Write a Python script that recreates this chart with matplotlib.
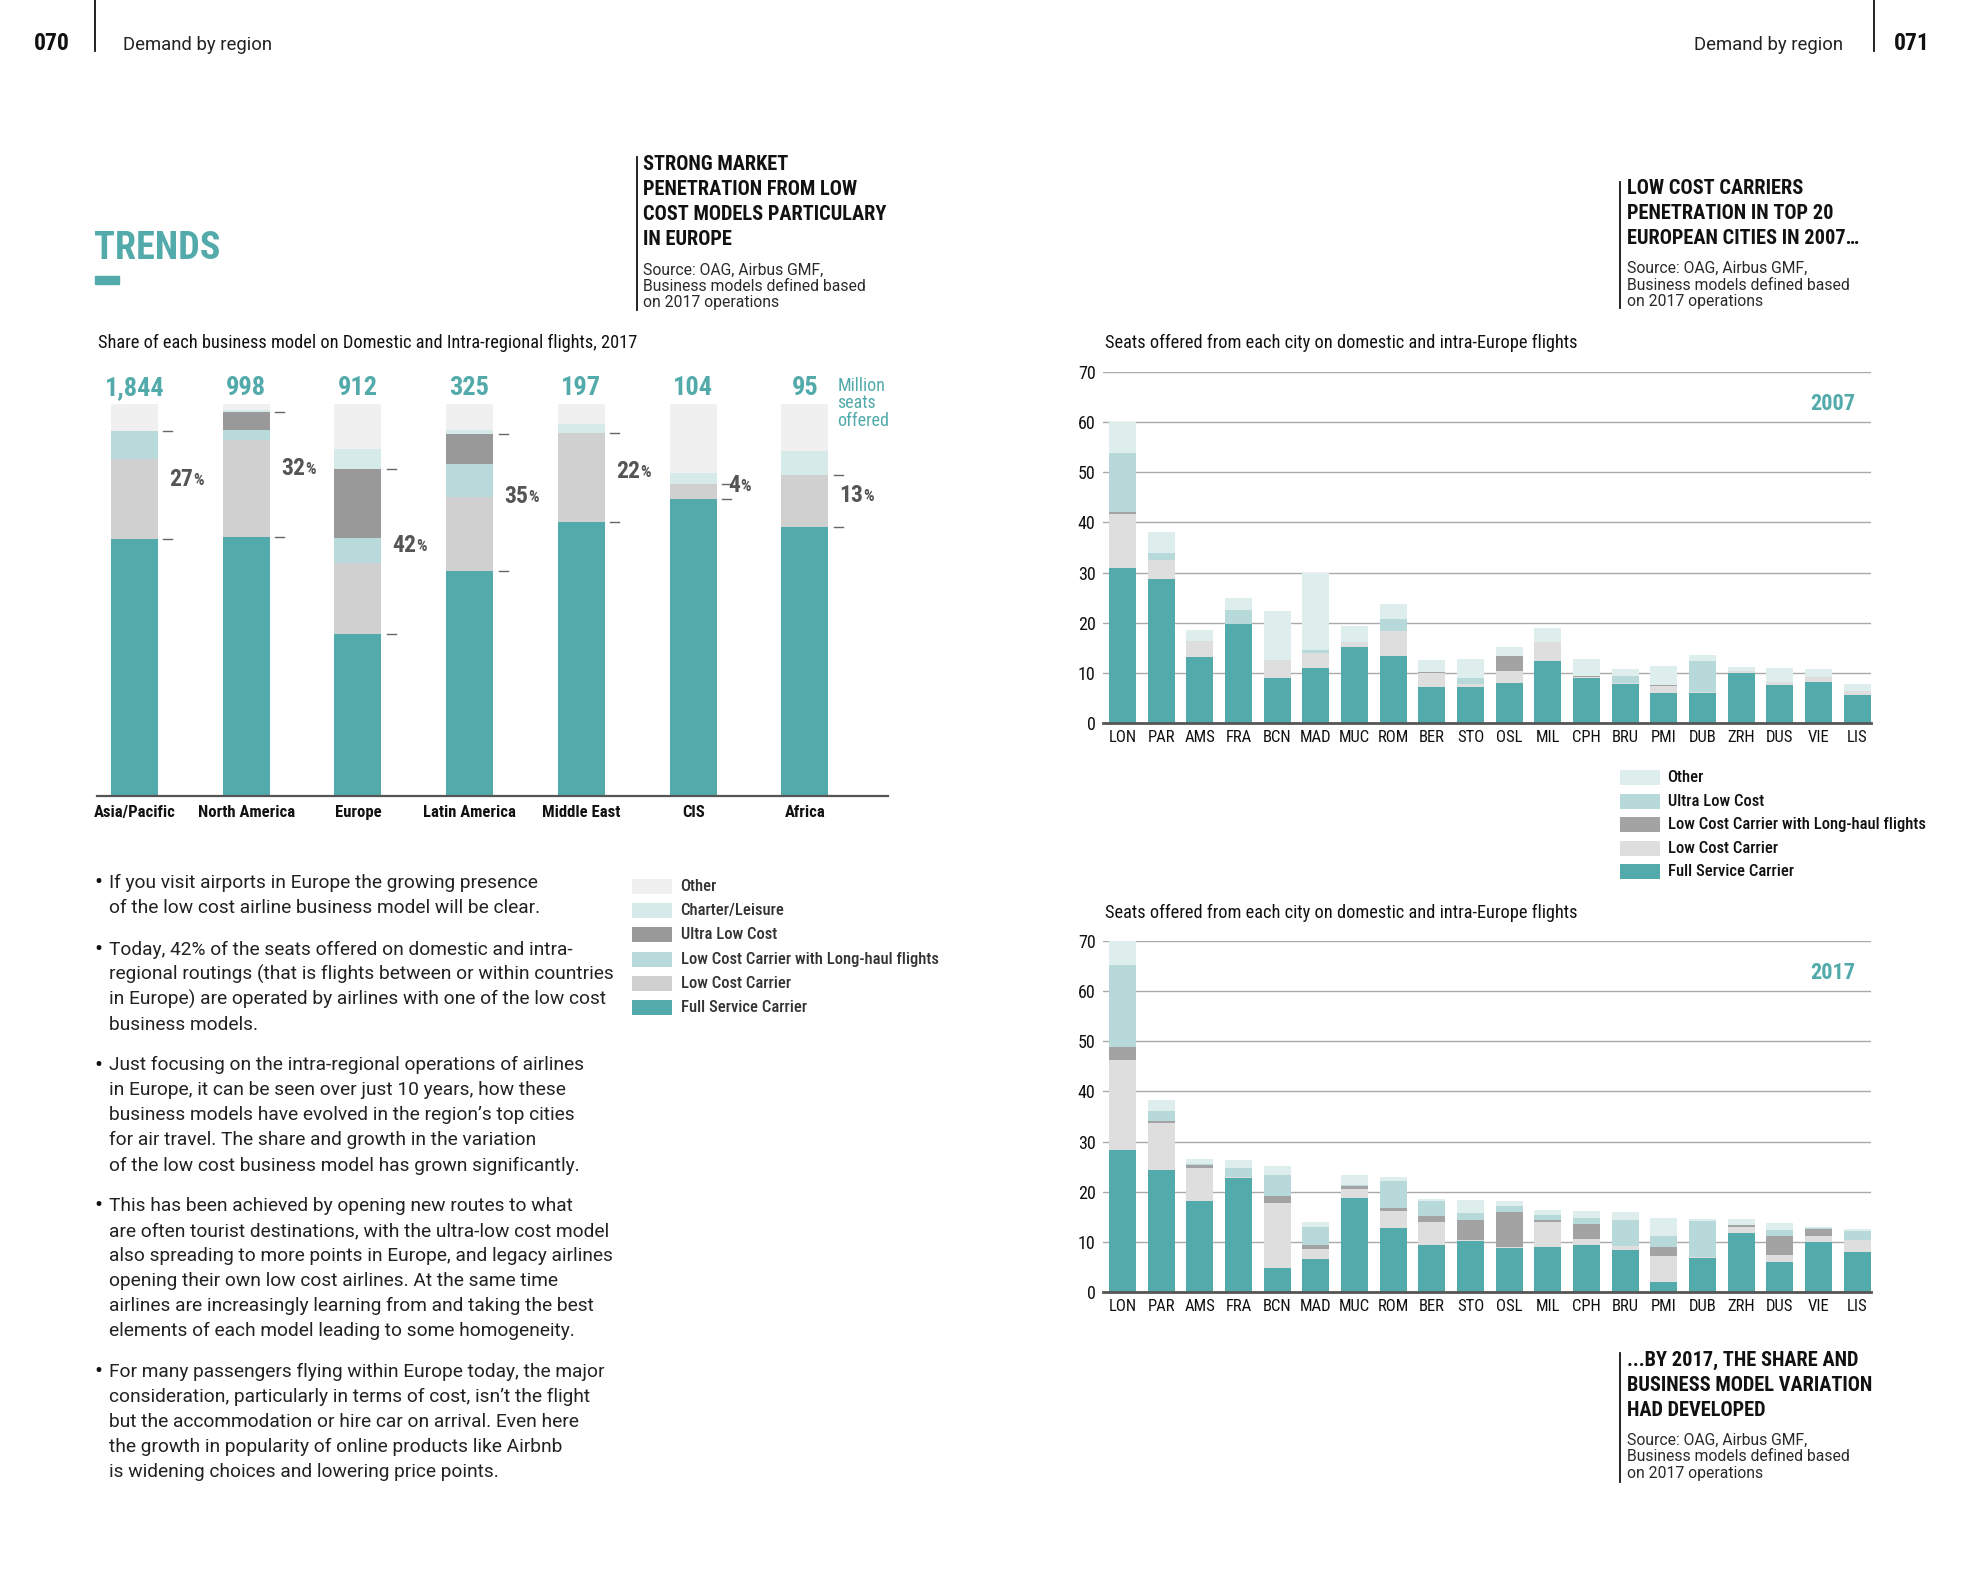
import matplotlib.pyplot as plt
import numpy as np

# page grid used for placing things (reference measured at about 1568 x 1254)
W, H = 1568, 1254


def fx(x):
    return x / W


def fy(y):
    return 1 - y / H


TEAL = '#52abaa'
DARK = '#111111'
COND = ['Liberation Sans Narrow', 'DejaVu Sans Condensed', 'Roboto Condensed', 'Roboto']
LIGHT = ['Roboto', 'DejaVu Sans']

# ---- left chart: share of business model by region, 2017 (%)
regions = ['Asia/Pacific', 'North America', 'Europe', 'Latin America', 'Middle East', 'CIS', 'Africa']
seats_total = [1844, 998, 912, 325, 197, 104, 95]
low_cost_pct = [27, 32, 42, 35, 22, 4, 13]
reg_fsc = [65.6, 66.2, 41.5, 57.5, 70.1, 75.8, 68.6]
reg_lcc = [20.6, 24.7, 18.1, 19.0, 22.5, 4.0, 13.3]
reg_lcclh = [7.0, 2.7, 6.4, 8.2, 0, 0, 0]
reg_ulc = [0, 4.4, 17.6, 7.7, 0, 0, 0]
reg_charter = [0, 0.6, 4.9, 1.2, 2.5, 2.8, 6.2]
reg_other = [6.8, 1.4, 11.5, 6.4, 4.9, 17.4, 11.9]

# ---- right charts: seats offered per city (millions)
cities = ['LON', 'PAR', 'AMS', 'FRA', 'BCN', 'MAD', 'MUC', 'ROM', 'BER', 'STO',
          'OSL', 'MIL', 'CPH', 'BRU', 'PMI', 'DUB', 'ZRH', 'DUS', 'VIE', 'LIS']
fsc07 = [30.9, 28.7, 13.3, 19.8, 9.0, 11.0, 15.3, 13.4, 7.2, 7.3, 8.0, 12.4, 9.0, 7.9, 6.0, 6.1, 10.1, 7.6, 8.3, 5.7]
lcc07 = [10.8, 3.8, 3.1, 0, 3.6, 3.0, 1.0, 5.1, 2.9, 0.5, 2.5, 3.8, 0.3, 0.2, 1.5, 0.1, 0.4, 0.7, 1.0, 0.8]
lcclh07 = [0.3, 0, 0, 0, 0, 0, 0, 0, 0.2, 0, 3.0, 0, 0.2, 0, 0.1, 0, 0, 0, 0, 0]
ulc07 = [11.9, 1.4, 0, 2.7, 0, 0.6, 0, 2.3, 0, 1.2, 0, 0, 0, 1.3, 0, 6.3, 0, 0, 0, 0]
oth07 = [6.1, 4.2, 2.2, 2.4, 9.7, 15.3, 3.1, 3.0, 2.3, 3.8, 1.7, 2.8, 3.3, 1.4, 3.9, 1.1, 0.7, 2.7, 1.5, 1.3]

fsc17 = [28.4, 24.4, 18.1, 22.7, 4.8, 6.6, 18.8, 12.8, 9.5, 10.2, 8.8, 9.0, 9.5, 8.5, 2.1, 6.8, 11.8, 6.0, 10.0, 8.1]
lcc17 = [17.9, 9.3, 6.7, 0.2, 12.9, 2.0, 1.7, 3.5, 4.6, 0.3, 0.3, 5.1, 1.1, 0.8, 5.2, 0.3, 1.3, 1.5, 1.3, 2.3]
lcclh17 = [2.6, 0.5, 0.6, 0, 1.4, 0.8, 0.7, 0.6, 1.2, 4.0, 7.0, 0.4, 3.1, 0, 1.7, 0, 0.3, 3.8, 1.3, 0]
ulc17 = [16.2, 1.9, 0.2, 1.8, 4.3, 3.7, 0.2, 5.2, 2.8, 1.3, 1.0, 0.9, 1.2, 5.2, 2.3, 7.1, 0, 1.1, 0.2, 1.8]
oth17 = [4.8, 2.1, 1.0, 1.7, 1.8, 1.0, 2.0, 0.8, 0.5, 2.5, 1.0, 1.1, 1.4, 1.6, 3.6, 0.5, 1.2, 1.4, 0.3, 0.4]
yticks = [0, 10, 20, 30, 40, 50, 60, 70]

left_names = ['Other', 'Charter/Leisure', 'Ultra Low Cost', 'Low Cost Carrier with Long-haul flights',
              'Low Cost Carrier', 'Full Service Carrier']
left_colors = ['#f0f0f0', '#d6eaea', '#999999', '#b8dada', '#d0d0d0', TEAL]
right_names = ['Other', 'Ultra Low Cost', 'Low Cost Carrier with Long-haul flights',
               'Low Cost Carrier', 'Full Service Carrier']
right_colors = ['#ddeeed', '#b8d9d9', '#a3a3a3', '#dedede', TEAL]

bullets = [
    ['If you visit airports in Europe the growing presence',
     'of the low cost airline business model will be clear.'],
    ['Today, 42% of the seats offered on domestic and intra-',
     'regional routings (that is flights between or within countries',
     'in Europe) are operated by airlines with one of the low cost',
     'business models.'],
    ['Just focusing on the intra-regional operations of airlines',
     'in Europe, it can be seen over just 10 years, how these',
     'business models have evolved in the region\u2019s top cities',
     'for air travel. The share and growth in the variation',
     'of the low cost business model has grown significantly.'],
    ['This has been achieved by opening new routes to what',
     'are often tourist destinations, with the ultra-low cost model',
     'also spreading to more points in Europe, and legacy airlines',
     'opening their own low cost airlines. At the same time',
     'airlines are increasingly learning from and taking the best',
     'elements of each model leading to some homogeneity.'],
    ['For many passengers flying within Europe today, the major',
     'consideration, particularly in terms of cost, isn\u2019t the flight',
     'but the accommodation or hire car on arrival. Even here',
     'the growth in popularity of online products like Airbnb',
     'is widening choices and lowering price points.'],
]

fig = plt.figure(figsize=(19.69, 15.75), dpi=100)
fig.patch.set_facecolor('white')


def txt(x, y, s, **kw):
    kw.setdefault('va', 'center')
    kw.setdefault('color', DARK)
    return fig.text(fx(x), fy(y), s, **kw)


def vline(x, y0, y1, lw=1.3):
    fig.add_artist(plt.Line2D([fx(x), fx(x)], [fy(y0), fy(y1)], color='#111111', lw=lw))


def title_block(x, y, lines, src_y):
    for i, s in enumerate(lines):
        txt(x, y + i * 20, s, family=COND, weight='bold', fontsize=14.7, color='#111111')
    src = ['Source: OAG, Airbus GMF,', 'Business models defined based', 'on 2017 operations']
    for i, s in enumerate(src):
        txt(x, src_y + i * 13, s, family=LIGHT, fontsize=11.3, color='#2a2a2a')


# ---- header
txt(27, 35, '070', family=COND, weight='bold', fontsize=17, color='#111111')
vline(76, 0, 41)
txt(98, 36, 'Demand by region', family=LIGHT, fontsize=13.3, color='#222222')
txt(1468, 36, 'Demand by region', family=LIGHT, fontsize=13.3, color='#222222', ha='right')
vline(1492, 0, 41)
txt(1537, 35, '071', family=COND, weight='bold', fontsize=17, color='#111111', ha='right')

txt(75, 198, 'TRENDS', family=COND, weight='bold', fontsize=27.5, color=TEAL)
fig.add_artist(plt.Rectangle((fx(76), fy(226)), fx(19), 6 / H, color=TEAL))

vline(507, 125, 247)
title_block(512, 131, ['STRONG MARKET', 'PENETRATION FROM LOW', 'COST MODELS PARTICULARY', 'IN EUROPE'], 215)
vline(1290, 145, 245)
title_block(1296, 150, ['LOW COST CARRIERS', 'PENETRATION IN TOP 20', 'EUROPEAN CITIES IN 2007\u2026'], 214)
vline(1290, 1077, 1180)
title_block(1296, 1083, ['...BY 2017, THE SHARE AND', 'BUSINESS MODEL VARIATION', 'HAD DEVELOPED'], 1147)

# ---- left stacked 100% chart
txt(78, 273, 'Share of each business model on Domestic and Intra-regional flights, 2017',
    family=COND, fontsize=13.2, color='#111111')
ax = fig.add_axes([fx(77), fy(634), fx(707) - fx(77), fy(322) - fy(634)])
x = np.arange(len(regions))
bw = 0.42
layers = [reg_fsc, reg_lcc, reg_lcclh, reg_ulc, reg_charter, reg_other]
bottom = np.zeros(len(regions))
for vals, col in zip(layers, left_colors[::-1]):
    ax.bar(x, vals, bw, bottom=bottom, color=col, linewidth=0)
    bottom += np.array(vals)
ax.set_xlim(-0.337, 6.742)
ax.set_ylim(0, 100)
for s in ['top', 'right', 'left']:
    ax.spines[s].set_visible(False)
ax.spines['bottom'].set_color('#555555')
ax.spines['bottom'].set_linewidth(1.6)
ax.set_yticks([])
ax.set_xticks(x)
ax.set_xticklabels(regions, family=COND, weight='bold', fontsize=12, color='#111111')
ax.tick_params(axis='x', length=0, pad=6)
low_top = np.array(reg_fsc) + np.array(reg_lcc) + np.array(reg_lcclh) + np.array(reg_ulc)
for i in range(len(regions)):
    for yv in (reg_fsc[i], low_top[i]):
        ax.plot([i + bw / 2 + 0.05, i + bw / 2 + 0.13], [yv, yv], color='#666666', lw=1)
    ax.text(i, 104.2, f'{seats_total[i]:,}', ha='center', va='center', family=COND,
            weight='bold', fontsize=19, color=TEAL, clip_on=False)
    ym = (reg_fsc[i] + low_top[i]) / 2 + 1.5
    t = ax.text(i + bw / 2 + 0.1, ym, str(low_cost_pct[i]), ha='left', va='center', family=COND,
                weight='bold', fontsize=17, color='#555555')
    ax.annotate('%', xy=(1, 0.12), xycoords=t, va='bottom', ha='left', family=COND,
                weight='bold', fontsize=12, color='#555555')
txt(667, 307, 'Million', family=COND, fontsize=13, color=TEAL)
txt(667, 321, 'seats', family=COND, fontsize=13, color=TEAL)
txt(667, 335, 'offered', family=COND, fontsize=13, color=TEAL)

# left legend
for i, (name, col) in enumerate(zip(left_names, left_colors)):
    yy = 706 + i * 19.2
    fig.add_artist(plt.Rectangle((fx(503), fy(yy + 6)), fx(32), 12 / H, color=col, lw=0))
    txt(542, yy, name, family=COND, weight='medium', fontsize=12, color='#333333')

# bullet text
para_y = [703, 756, 848, 960, 1092]
for py, lines in zip(para_y, bullets):
    txt(75, py, '\u2022', family=LIGHT, fontsize=17, color='#111111')
    for j, s in enumerate(lines):
        txt(87, py + j * 20, s, family=LIGHT, fontsize=13.8, color='#222222')


# ---- right city charts
def city_chart(y_top, y_bot, layers, year, subtitle_y):
    txt(880, subtitle_y, 'Seats offered from each city on domestic and intra-Europe flights',
        family=COND, fontsize=13.2, color='#111111')
    a = fig.add_axes([fx(878), fy(y_bot), fx(1490) - fx(878), fy(y_top) - fy(y_bot)])
    xc = np.arange(len(cities))
    b = np.zeros(len(cities))
    for vals, col in zip(layers, right_colors[::-1]):
        a.bar(xc, vals, 0.7, bottom=b, color=col, linewidth=0, zorder=3)
        b += np.array(vals)
    a.set_xlim(-0.52, 19.36)
    a.set_ylim(0, 70)
    a.set_yticks(yticks)
    a.set_yticklabels([str(v) for v in yticks], family=COND, fontsize=13, color='#111111')
    a.set_xticks(xc)
    a.set_xticklabels(cities, family=COND, fontsize=12, color='#111111')
    a.tick_params(axis='both', length=0)
    a.tick_params(axis='y', pad=5)
    a.tick_params(axis='x', pad=5)
    a.grid(axis='y', color='#aaaaaa', lw=1, zorder=0)
    a.set_axisbelow(True)
    for s in ['top', 'right', 'left']:
        a.spines[s].set_visible(False)
    a.spines['bottom'].set_color('#555555')
    a.spines['bottom'].set_linewidth(2)
    a.spines['bottom'].set_zorder(4)
    a.text(19.36 - 0.4, 63.5, year, ha='right', va='center', family=COND, weight='bold',
           fontsize=16, color=TEAL)
    return a


city_chart(296, 576, [fsc07, lcc07, lcclh07, ulc07, oth07], '2007', 273)
city_chart(749, 1029, [fsc17, lcc17, lcclh17, ulc17, oth17], '2017', 727)

# right legend
for i, (name, col) in enumerate(zip(right_names, right_colors)):
    yy = 619 + i * 18.8
    fig.add_artist(plt.Rectangle((fx(1290), fy(yy + 6)), fx(32), 12 / H, color=col, lw=0))
    txt(1328, yy, name, family=COND, weight='medium', fontsize=12, color='#111111')

fig.savefig('out.png', dpi=100, facecolor='white')
